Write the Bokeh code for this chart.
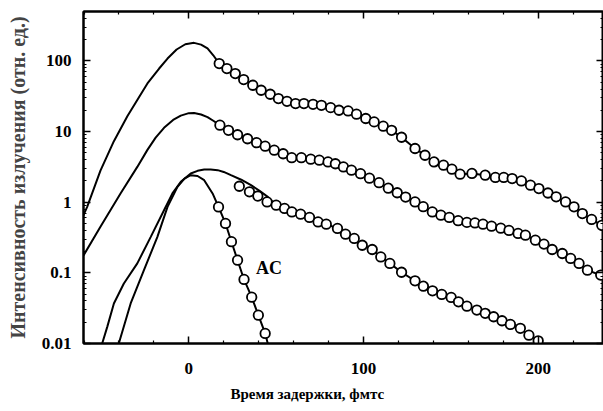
from bokeh.plotting import figure
from bokeh.models import (Range1d, FixedTicker, LinearAxis, LogAxis,
                          CustomJSTickFormatter, Label, Title)
from bokeh.embed import file_html
from bokeh.resources import INLINE

# ---------------- data ----------------
# upper curve (x100): rising model line, then measured points
top_line_x = [-61.0, -58.2, -50.6, -42.9, -35.2, -29.5, -23.7, -17.0, -12.2, -7.0, -2.0, 3.0, 7.0, 10.7, 14.0]
top_line_y = [0.60, 0.86, 2.8, 7.3, 16.5, 28.0, 48.0, 78.0, 108.0, 145.0, 172.0, 180.0, 170.0, 150.0, 120.0]
top_pts_x = [17.4, 21.8, 26.6, 31.4, 36.6, 41.4, 46.6, 51.3, 56.2, 61.1, 65.9,
             71.1, 75.9, 81.2, 86.0, 91.2, 96.0, 101.3, 106.1, 111.3, 116.1,
             121.8, 129.5, 135.2, 140.4, 145.8, 150.6, 155.3, 162.1, 169.7,
             175.5, 180.3, 185.1, 190.4, 195.6, 200.4, 205.6, 210.3, 215.7,
             220.5, 225.3, 230.6, 236.4]
top_pts_y = [91.6, 77.8, 66.1, 54.4, 45.2, 38.4, 33.7, 29.3, 26.8, 24.9, 24.9,
             24.3, 23.5, 21.8, 20.0, 19.6, 17.6, 15.3, 13.7, 11.9, 10.4,
             8.3, 5.75, 4.62, 3.72, 3.34, 2.93, 2.49, 2.55, 2.41,
             2.24, 2.24, 2.16, 2.00, 1.74, 1.56, 1.35, 1.19, 1.01,
             0.86, 0.69, 0.57, 0.47]

# middle curve (x10)
mid_line_x = [-61.0, -60.2, -50.6, -39.1, -29.5, -23.7, -19.0, -14.2, -9.0, -4.6, 0.0, 3.0, 7.0, 10.7, 14.0]
mid_line_y = [0.17, 0.178, 0.45, 1.33, 3.16, 5.5, 8.2, 11.3, 14.6, 16.8, 18.2, 18.3, 17.4, 16.0, 14.2]
mid_pts_x = [17.8, 22.7, 27.9, 33.6, 38.8, 43.7, 48.9, 54.0, 58.9, 64.4, 69.8,
             74.7, 79.7, 83.9, 88.5, 93.1, 98.3, 103.4, 108.9, 114.2, 119.3,
             124.1, 129.5, 134.2, 139.4, 144.3, 149.1, 154.2, 159.2, 163.8,
             168.4, 173.3, 178.6, 183.3, 188.5, 192.7, 198.4, 203.3, 208.0,
             213.8, 218.6, 223.4, 228.2, 235.8]
mid_pts_y = [12.3, 10.4, 9.01, 7.91, 6.95, 6.20, 5.44, 4.85, 4.26, 4.26, 4.06,
             3.93, 3.72, 3.50, 3.16, 2.84, 2.53, 2.19, 1.89, 1.58, 1.36,
             1.18, 1.01, 0.864, 0.729, 0.655, 0.608, 0.548, 0.518, 0.509,
             0.489, 0.458, 0.429, 0.398, 0.361, 0.341, 0.290, 0.255, 0.214,
             0.188, 0.160, 0.136, 0.109, 0.093]

# lower curve (x1)
low_line_x = [-51.0, -49.6, -46.7, -42.9, -37.2, -29.5, -21.8, -14.2, -9.4,
              -4.6, 1.1, 5.0, 8.8, 12.5, 16.5, 20.0, 24.1, 30.0, 35.6, 40.5, 45.2]
low_line_y = [0.007, 0.01, 0.0172, 0.0369, 0.0708, 0.136, 0.323, 0.77, 1.33,
              1.94, 2.55, 2.78, 2.90, 2.90, 2.84, 2.68, 2.41, 2.08, 1.74, 1.45, 1.19]
low_pts_x = [28.9, 34.7, 39.5, 44.8, 50.0, 54.8, 59.0, 64.0, 69.1, 74.0, 78.7,
             85.1, 89.7, 94.7, 99.3, 105.0, 109.9, 115.1, 121.8, 129.5, 134.3,
             139.5, 144.8, 150.2, 154.4, 159.2, 164.9, 169.7, 174.5, 179.3,
             184.1, 189.8, 194.7, 200.0]
low_pts_y = [1.68, 1.40, 1.22, 1.01, 0.907, 0.815, 0.729, 0.677, 0.608, 0.526,
             0.489, 0.425, 0.353, 0.307, 0.246, 0.214, 0.168, 0.136, 0.102,
             0.077, 0.0648, 0.0556, 0.0495, 0.0449, 0.0389, 0.0338, 0.0297,
             0.0267, 0.0239, 0.0210, 0.0186, 0.0164, 0.0131, 0.0109]

# autocorrelation (AC)
ac_line_x = [-41.0, -40.1, -33.3, -25.7, -18.0, -12.2, -6.5, -2.5, 1.1, 5.0, 8.8, 13.6]
ac_line_y = [0.008, 0.01, 0.0369, 0.109, 0.323, 0.858, 1.65, 2.15, 2.41, 2.35, 2.05, 1.33]
ac_pts_x = [17.0, 21.0, 24.4, 27.9, 31.6, 36.0, 39.8, 43.7]
ac_pts_y = [0.858, 0.500, 0.276, 0.151, 0.0806, 0.0453, 0.0252, 0.0139]
ac_tail_x = [45.2, 46.5]
ac_tail_y = [0.01, 0.008]

x_major = [0, 100, 200]
x_minor = [-60, -40, -20, 20, 40, 60, 80, 120, 140, 160, 180, 220]
y_major = [0.01, 0.1, 1, 10, 100]
y_minor = [0.02, 0.03, 0.04, 0.05, 0.06, 0.07, 0.08, 0.09,
           0.2, 0.3, 0.4, 0.5, 0.6, 0.7, 0.8, 0.9,
           2, 3, 4, 5, 6, 7, 8, 9,
           20, 30, 40, 50, 60, 70, 80, 90,
           200, 300, 400]

x_title = "Время задержки, фмтс"
y_title = "Интенсивность излучения (отн. ед.)"
ac_text = "AC"

# ---------------- figure ----------------
SERIF = "Liberation Serif"

p = figure(width=603, height=411, y_axis_type="log",
           x_range=Range1d(-60.3, 237.4), y_range=Range1d(0.01, 500),
           output_backend="svg", toolbar_location=None,
           min_border_left=83, min_border_right=0, min_border_top=11,
           min_border_bottom=68)
p.grid.visible = False
p.outline_line_color = "black"
p.outline_line_width = 2
p.background_fill_color = "white"
p.border_fill_color = "white"

xt = FixedTicker(ticks=x_major, minor_ticks=x_minor)
yt = FixedTicker(ticks=y_major, minor_ticks=y_minor)
yfmt = CustomJSTickFormatter(code="return String(+tick.toPrecision(3));")
blank = CustomJSTickFormatter(code="return '';")


def style(ax, labels=True):
    ax.axis_line_color = "black"
    ax.axis_line_width = 2
    ax.major_tick_in = 7
    ax.major_tick_out = 0
    ax.minor_tick_in = 3
    ax.minor_tick_out = 0
    ax.major_tick_line_width = 1.5
    ax.minor_tick_line_width = 1.2
    ax.major_tick_line_color = "black"
    ax.minor_tick_line_color = "black"
    ax.major_label_text_font = SERIF
    ax.major_label_text_font_style = "bold"
    ax.major_label_text_font_size = "17px"
    ax.major_label_text_color = "black"
    ax.major_label_standoff = 12 if labels else 0
    if not labels:
        ax.axis_label_standoff = 0
        ax.major_label_text_line_height = 0.1


xa = p.xaxis[0]
xa.ticker = xt
style(xa)
xa.major_label_standoff = 19
xa.axis_label = None

ya = p.yaxis[0]
ya.ticker = yt
ya.formatter = yfmt
style(ya)
ya.axis_label = y_title
ya.axis_label_text_font = SERIF
ya.axis_label_text_font_style = "bold"
ya.axis_label_text_font_size = "20px"
ya.axis_label_standoff = 10

top_ax = LinearAxis(ticker=xt, formatter=blank)
style(top_ax, labels=False)
p.add_layout(top_ax, "above")
right_ax = LogAxis(ticker=yt, formatter=blank)
style(right_ax, labels=False)
p.add_layout(right_ax, "right")

p.add_layout(Title(text=x_title, align="left", offset=147, text_font=SERIF,
                   text_font_style="bold", text_font_size="15px",
                   text_color="black", standoff=15), "below")

LW = 2
MS = 9.5

# lines
p.line(top_line_x + top_pts_x, top_line_y + top_pts_y, line_color="black", line_width=LW)
p.line(mid_line_x + mid_pts_x, mid_line_y + mid_pts_y, line_color="black", line_width=LW)
low_x = low_line_x + [x for x in low_pts_x if x > low_line_x[-1]]
low_y = low_line_y + [y for x, y in zip(low_pts_x, low_pts_y) if x > low_line_x[-1]]
p.line(low_x, low_y, line_color="black", line_width=LW)
p.line(ac_line_x + ac_pts_x + ac_tail_x, ac_line_y + ac_pts_y + ac_tail_y,
       line_color="black", line_width=LW)

# markers
for xs, ys in [(top_pts_x, top_pts_y), (mid_pts_x, mid_pts_y),
               (low_pts_x, low_pts_y), (ac_pts_x, ac_pts_y)]:
    p.scatter(xs, ys, marker="circle", size=MS, fill_color="white",
              line_color="black", line_width=1.8)

p.add_layout(Label(x=38.5, y=0.116, text=ac_text, text_font=SERIF,
                   text_font_style="bold", text_font_size="18px",
                   text_baseline="middle", text_align="left", text_color="black"))

open("out.html", "w").write(file_html(p, INLINE))
